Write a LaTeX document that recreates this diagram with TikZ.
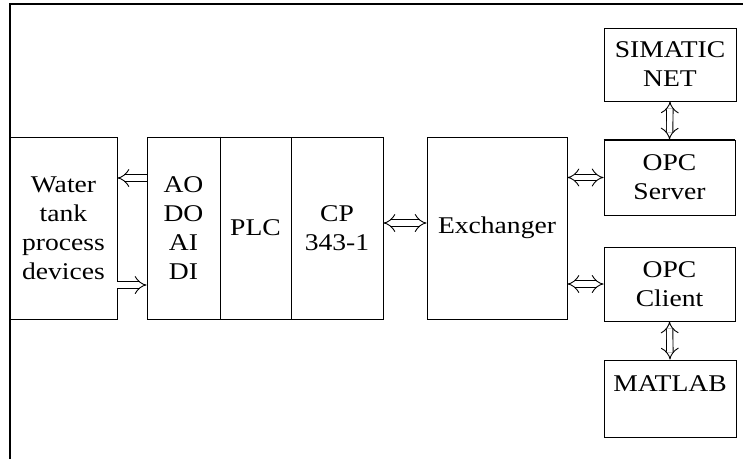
\documentclass[tikz,border=0pt]{standalone}
\usepackage{fontspec}
\setmainfont{Liberation Serif}[FakeStretch=1.15]
\usetikzlibrary{arrows.meta}

\tikzset{
  blk/.style={draw, line width=0.9pt, inner sep=0pt, align=center,
    font=\fontsize{24}{29}\selectfont},
  dblline/.style={double, double distance=5.5pt, line width=0.9pt},
  dblarrow/.style={dblline, {Implies[length=7pt, width=15pt]}-{Implies[length=7pt, width=15pt]}},
  onearrow/.style={dblline, -{Implies[length=7pt, width=15pt]}},
}

\begin{document}
\begin{tikzpicture}[x=1pt, y=1pt]
  \useasboundingbox (0,0) rectangle (743,459);
  % frame
  \draw[line width=2.6pt] (10,0) -- (10,455) -- (743,455);

  % field side and PLC rack
  \node[blk, minimum width=107, minimum height=182] (water) at (63.5,231)
    {Water\\tank\\process\\devices};
  \node[blk, minimum width=73, minimum height=182] (io) at (183.5,231)
    {AO\\DO\\AI\\DI};
  \node[blk, minimum width=71, minimum height=182] (plc) at (255.5,231) {PLC};
  \node[blk, minimum width=92, minimum height=182] (cp) at (337,231)
    {CP\\343-1};
  \draw[line width=1.8pt] (io.north east) -- (io.south east);

  % PC side
  \node[blk, minimum width=140, minimum height=182] (exch) at (497,231) {Exchanger};
  \node[blk, minimum width=131, minimum height=75] (server) at (669.5,281.5)
    {OPC\\Server};
  \node[blk, minimum width=131, minimum height=74] (client) at (669.5,175)
    {OPC\\Client};
  \node[blk, minimum width=132, minimum height=73] (simatic) at (670,394.5)
    {SIMATIC\\NET};
  \node[blk, minimum width=132, minimum height=77] (matlab) at (670,60.5)
    {MATLAB\\\mbox{}};
  \draw[line width=1.8pt] (server.north west) -- (server.north east);

  % connections
  \draw[onearrow] ([yshift=50]io.west) -- ([yshift=50]water.east);
  \draw[onearrow] ([yshift=-57]water.east) -- ([yshift=-57]io.west);
  \draw[dblarrow] ([yshift=5]cp.east) -- ([yshift=5]exch.west);
  \draw[dblarrow] (exch.east |- server.west) -- (server.west);
  \draw[dblarrow] (exch.east |- client.west) -- (client.west);
  \draw[dblarrow] (simatic.south) -- (server.north);
  \draw[dblarrow] (client.south) -- (matlab.north);
\end{tikzpicture}
\end{document}
